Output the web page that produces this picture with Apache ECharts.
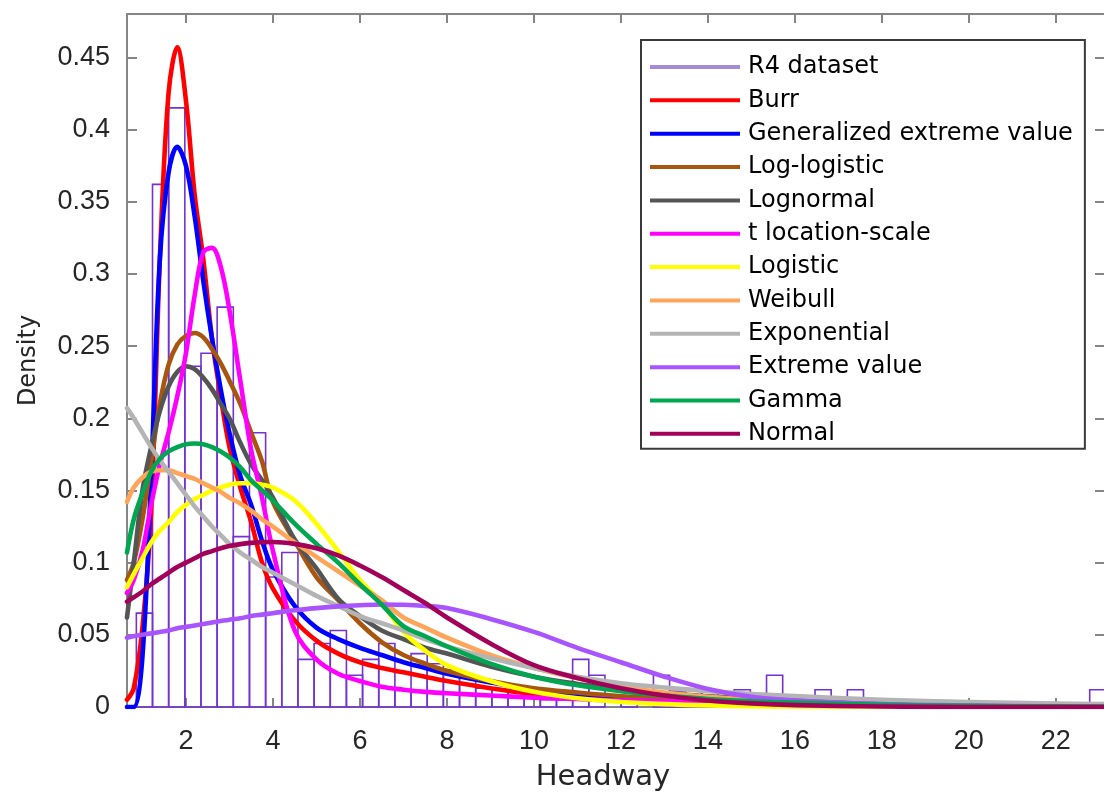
<!DOCTYPE html>
<html>
<head>
<meta charset="utf-8">
<script src="https://cdn.jsdelivr.net/npm/echarts@6/dist/echarts.min.js"></script>
<style>
  html, body { margin: 0; padding: 0; background: #ffffff; }
  #chart { width: 1104px; height: 792px; }
</style>
</head>
<body>
<div id="chart"></div>
<script>
// Headway histogram (density-normalised) of the R4 dataset
const binStart = 0.86;
const binWidth = 0.3715;
const density = [
  0.065, 0.362, 0.415, 0.236, 0.245, 0.277, 0.118, 0.190, 0.090, 0.107,
  0.033, 0.044, 0.053, 0.022, 0.033, 0.044, 0.012, 0.037, 0.030, 0.026,
  0.020, 0.013, 0.012, 0.010, 0.008, 0.005, 0.005, 0.033, 0.022, 0.000,
  0.005, 0.000, 0.022, 0.011, 0.005, 0.012, 0.000, 0.012, 0.000, 0.022,
  0.000, 0.000, 0.012, 0.000, 0.012, 0.000, 0.000, 0.000, 0.000, 0.000,
  0.000, 0.000, 0.000, 0.000, 0.000, 0.000, 0.000, 0.000, 0.000, 0.012
];

// Headway values at which the fitted densities are listed
const headway = [0.645, 0.8, 1.0, 1.2, 1.4, 1.6, 1.8, 2.0, 2.2, 2.4, 2.6, 2.8, 3.0, 3.25, 3.5, 3.75,
  4.0, 4.5, 5.0, 5.5, 6.0, 6.5, 7.0, 7.5, 8.0, 9, 10, 11, 12, 13, 14, 15, 16, 18, 20, 22, 23.13];

// Fitted probability densities
const burr = [0.005, 0.013, 0.055, 0.135, 0.31, 0.425, 0.457, 0.42, 0.355, 0.31, 0.255, 0.215, 0.18, 0.152,
  0.128, 0.1, 0.082, 0.06, 0.046, 0.037, 0.031, 0.027, 0.024, 0.021, 0.018, 0.013, 0.009, 0.0065, 0.005,
  0.004, 0.003, 0.0025, 0.002, 0.0015, 0.001, 0.0008, 0.0007];
const gev = [0.0, 0.0, 0.035, 0.16, 0.31, 0.37, 0.388, 0.375, 0.34, 0.295, 0.255, 0.22, 0.19, 0.16,
  0.14, 0.115, 0.095, 0.07, 0.055, 0.047, 0.041, 0.036, 0.031, 0.027, 0.023, 0.017, 0.012, 0.009, 0.007,
  0.0055, 0.0043, 0.0035, 0.0028, 0.0019, 0.0013, 0.001, 0.0008];
const logLogistic = [0.088, 0.1, 0.13, 0.17, 0.21, 0.237, 0.251, 0.257, 0.259, 0.256, 0.248, 0.238, 0.226,
  0.21, 0.19, 0.17, 0.142, 0.115, 0.09, 0.074, 0.058, 0.045, 0.036, 0.03, 0.025, 0.018, 0.013, 0.01, 0.0075,
  0.006, 0.0048, 0.004, 0.0033, 0.0023, 0.0017, 0.0013, 0.0011];
const lognormal = [0.062, 0.1, 0.15, 0.18, 0.205, 0.222, 0.232, 0.236, 0.234, 0.228, 0.22, 0.21, 0.2,
  0.183, 0.168, 0.157, 0.145, 0.116, 0.096, 0.075, 0.063, 0.053, 0.047, 0.041, 0.037, 0.028, 0.021, 0.016,
  0.012, 0.0095, 0.0075, 0.006, 0.0048, 0.0032, 0.0022, 0.0015, 0.0012];
const tLocationScale = [0.079, 0.088, 0.108, 0.14, 0.168, 0.19, 0.215, 0.245, 0.285, 0.315, 0.318, 0.305,
  0.275, 0.226, 0.178, 0.145, 0.108, 0.053, 0.033, 0.023, 0.018, 0.014, 0.012, 0.0105, 0.0095, 0.008,
  0.0065, 0.0055, 0.0045, 0.004, 0.0035, 0.003, 0.0027, 0.0022, 0.0018, 0.0015, 0.0014];
const logistic = [0.083, 0.092, 0.103, 0.114, 0.122, 0.128, 0.135, 0.14, 0.144, 0.147, 0.15, 0.152, 0.154,
  0.155, 0.155, 0.154, 0.152, 0.143, 0.127, 0.108, 0.088, 0.072, 0.052, 0.039, 0.029, 0.018, 0.0105, 0.006,
  0.0035, 0.002, 0.0011, 0.0006, 0.0003, 0.0001, 0.0, 0.0, 0.0];
const weibull = [0.142, 0.152, 0.159, 0.163, 0.164, 0.164, 0.162, 0.16, 0.158, 0.155, 0.152, 0.149, 0.145,
  0.141, 0.136, 0.13, 0.125, 0.114, 0.104, 0.094, 0.084, 0.074, 0.062, 0.055, 0.048, 0.036, 0.027, 0.02,
  0.014, 0.01, 0.007, 0.005, 0.0035, 0.0015, 0.0007, 0.0003, 0.0002];
const exponential = [0.207, 0.2, 0.19, 0.18, 0.171, 0.163, 0.155, 0.147, 0.139, 0.132, 0.125, 0.119, 0.113,
  0.107, 0.102, 0.097, 0.093, 0.085, 0.077, 0.07, 0.063, 0.058, 0.053, 0.047, 0.042, 0.034, 0.027, 0.021,
  0.0165, 0.0135, 0.011, 0.009, 0.0075, 0.005, 0.0035, 0.0024, 0.002];
const extremeValue = [0.048, 0.049, 0.05, 0.051, 0.052, 0.053, 0.0545, 0.0555, 0.0565, 0.0575, 0.0585,
  0.0595, 0.0605, 0.0615, 0.063, 0.064, 0.065, 0.067, 0.0685, 0.0697, 0.0705, 0.071, 0.0708, 0.07, 0.0685,
  0.061, 0.052, 0.041, 0.031, 0.021, 0.0125, 0.007, 0.0045, 0.002, 0.001, 0.0005, 0.0003];
const gamma = [0.107, 0.13, 0.148, 0.163, 0.172, 0.177, 0.18, 0.182, 0.1825, 0.182, 0.18, 0.177, 0.173,
  0.166, 0.157, 0.15, 0.143, 0.127, 0.113, 0.1, 0.085, 0.071, 0.056, 0.049, 0.042, 0.03, 0.021, 0.015,
  0.011, 0.008, 0.0055, 0.004, 0.003, 0.0015, 0.0008, 0.0004, 0.0003];
const normal = [0.073, 0.076, 0.08, 0.085, 0.089, 0.093, 0.097, 0.1, 0.103, 0.106, 0.108, 0.11, 0.1115,
  0.1128, 0.1137, 0.1142, 0.1143, 0.113, 0.11, 0.105, 0.098, 0.09, 0.081, 0.072, 0.062, 0.044, 0.029,
  0.02, 0.013, 0.008, 0.0045, 0.0025, 0.0013, 0.0003, 0.0, 0.0, 0.0];

const xTickValues = [2, 4, 6, 8, 10, 12, 14, 16, 18, 20, 22];
const yTickValues = [0, 0.05, 0.1, 0.15, 0.2, 0.25, 0.3, 0.35, 0.4, 0.45];

const fits = [
  { name: 'Burr', values: burr, color: '#ff0000' },
  { name: 'Generalized extreme value', values: gev, color: '#0000ff' },
  { name: 'Log-logistic', values: logLogistic, color: '#a8560f' },
  { name: 'Lognormal', values: lognormal, color: '#555555' },
  { name: 't location-scale', values: tLocationScale, color: '#ff00ff' },
  { name: 'Logistic', values: logistic, color: '#ffff00' },
  { name: 'Weibull', values: weibull, color: '#ffa55a' },
  { name: 'Exponential', values: exponential, color: '#b4b4b4' },
  { name: 'Extreme value', values: extremeValue, color: '#a855ff' },
  { name: 'Gamma', values: gamma, color: '#00a650' },
  { name: 'Normal', values: normal, color: '#a3005a' }
];

const histData = density.map((d, i) => [binStart + i * binWidth, binStart + (i + 1) * binWidth, d]);

const axisGrey = '#858585';
const tickFont = { fontFamily: 'Liberation Sans, Arial, sans-serif', fontSize: 27, color: '#262626' };

const chart = echarts.init(document.getElementById('chart'), null, { renderer: 'canvas' });

const series = [{
  name: 'R4 dataset',
  type: 'custom',
  itemStyle: { color: '#a68ad8' },
  data: histData,
  encode: { x: [0, 1], y: 2 },
  z: 1,
  renderItem(params, api) {
    const h = api.value(2);
    if (!h) return null;
    const cs = params.coordSys;
    const p0 = api.coord([api.value(0), 0]);
    const p1 = api.coord([api.value(1), h]);
    const left = Math.max(p0[0], cs.x);
    const right = Math.min(p1[0], cs.x + cs.width + 2);
    return {
      type: 'rect',
      shape: { x: left, y: p1[1], width: right - left, height: p0[1] - p1[1] },
      style: { fill: 'none', stroke: '#7433d0', lineWidth: 1.6 }
    };
  }
}];

fits.forEach((f) => {
  series.push({
    name: f.name,
    type: 'line',
    data: headway.map((x, i) => [x, f.values[i]]),
    color: f.color,
    symbol: 'none',
    smooth: 0.35,
    z: 2,
    lineStyle: { width: 4.6, color: f.color, cap: 'round', join: 'round' }
  });
});

chart.setOption({
  animation: false,
  backgroundColor: '#ffffff',
  grid: { left: 127, right: -1, top: 14, bottom: 85, outerBoundsMode: 'none', containLabel: false },
  legend: {
    orient: 'vertical',
    left: 641,
    top: 40,
    padding: [15, 12, 3, 9],
    borderColor: '#3a3a3a',
    borderWidth: 2,
    backgroundColor: '#ffffff',
    icon: 'rect',
    itemWidth: 90,
    itemHeight: 4,
    itemGap: 9.35,
    selectedMode: false,
    textStyle: { fontFamily: 'DejaVu Sans, sans-serif', fontSize: 24, color: '#000000', lineHeight: 20, padding: [0, 0, 0, 3] },
    data: ['R4 dataset'].concat(fits.map(f => f.name))
  },
  xAxis: [{
    type: 'value',
    position: 'bottom',
    min: 0.645,
    max: 23.13,
    name: 'Headway',
    nameLocation: 'middle',
    nameGap: 56,
    nameTextStyle: { fontFamily: 'DejaVu Sans, sans-serif', fontSize: 29, color: '#262626', padding: [0, 26, 0, 0] },
    axisLine: { show: true, onZero: false, lineStyle: { color: axisGrey, width: 2 } },
    axisTick: { show: true, inside: true, length: 9, customValues: xTickValues, lineStyle: { color: axisGrey, width: 2 } },
    axisLabel: Object.assign({ customValues: xTickValues, margin: 21 }, tickFont),
    splitLine: { show: false }
  }, {
    type: 'value',
    position: 'top',
    min: 0.645,
    max: 23.13,
    axisLine: { show: true, onZero: false, lineStyle: { color: axisGrey, width: 2 } },
    axisTick: { show: true, inside: true, length: 9, customValues: xTickValues, lineStyle: { color: axisGrey, width: 2 } },
    axisLabel: { show: false },
    splitLine: { show: false }
  }],
  yAxis: [{
    type: 'value',
    position: 'left',
    min: 0,
    max: 0.48,
    name: 'Density',
    nameLocation: 'middle',
    nameGap: 86,
    nameRotate: 90,
    nameTextStyle: { fontFamily: 'DejaVu Sans, sans-serif', fontSize: 24, color: '#262626' },
    axisLine: { show: true, onZero: false, lineStyle: { color: axisGrey, width: 2 } },
    axisTick: { show: true, inside: true, length: 10, customValues: yTickValues, lineStyle: { color: axisGrey, width: 2 } },
    axisLabel: Object.assign({
      customValues: yTickValues,
      margin: 17,
      formatter: v => (v === 0 ? '0' : String(parseFloat(v.toFixed(2))))
    }, tickFont),
    splitLine: { show: false }
  }, {
    type: 'value',
    position: 'right',
    min: 0,
    max: 0.48,
    axisLine: { show: true, onZero: false, lineStyle: { color: axisGrey, width: 2 } },
    axisTick: { show: true, inside: true, length: 10, customValues: yTickValues, lineStyle: { color: axisGrey, width: 2 } },
    axisLabel: { show: false },
    splitLine: { show: false }
  }],
  series: series
});
</script>
</body>
</html>
